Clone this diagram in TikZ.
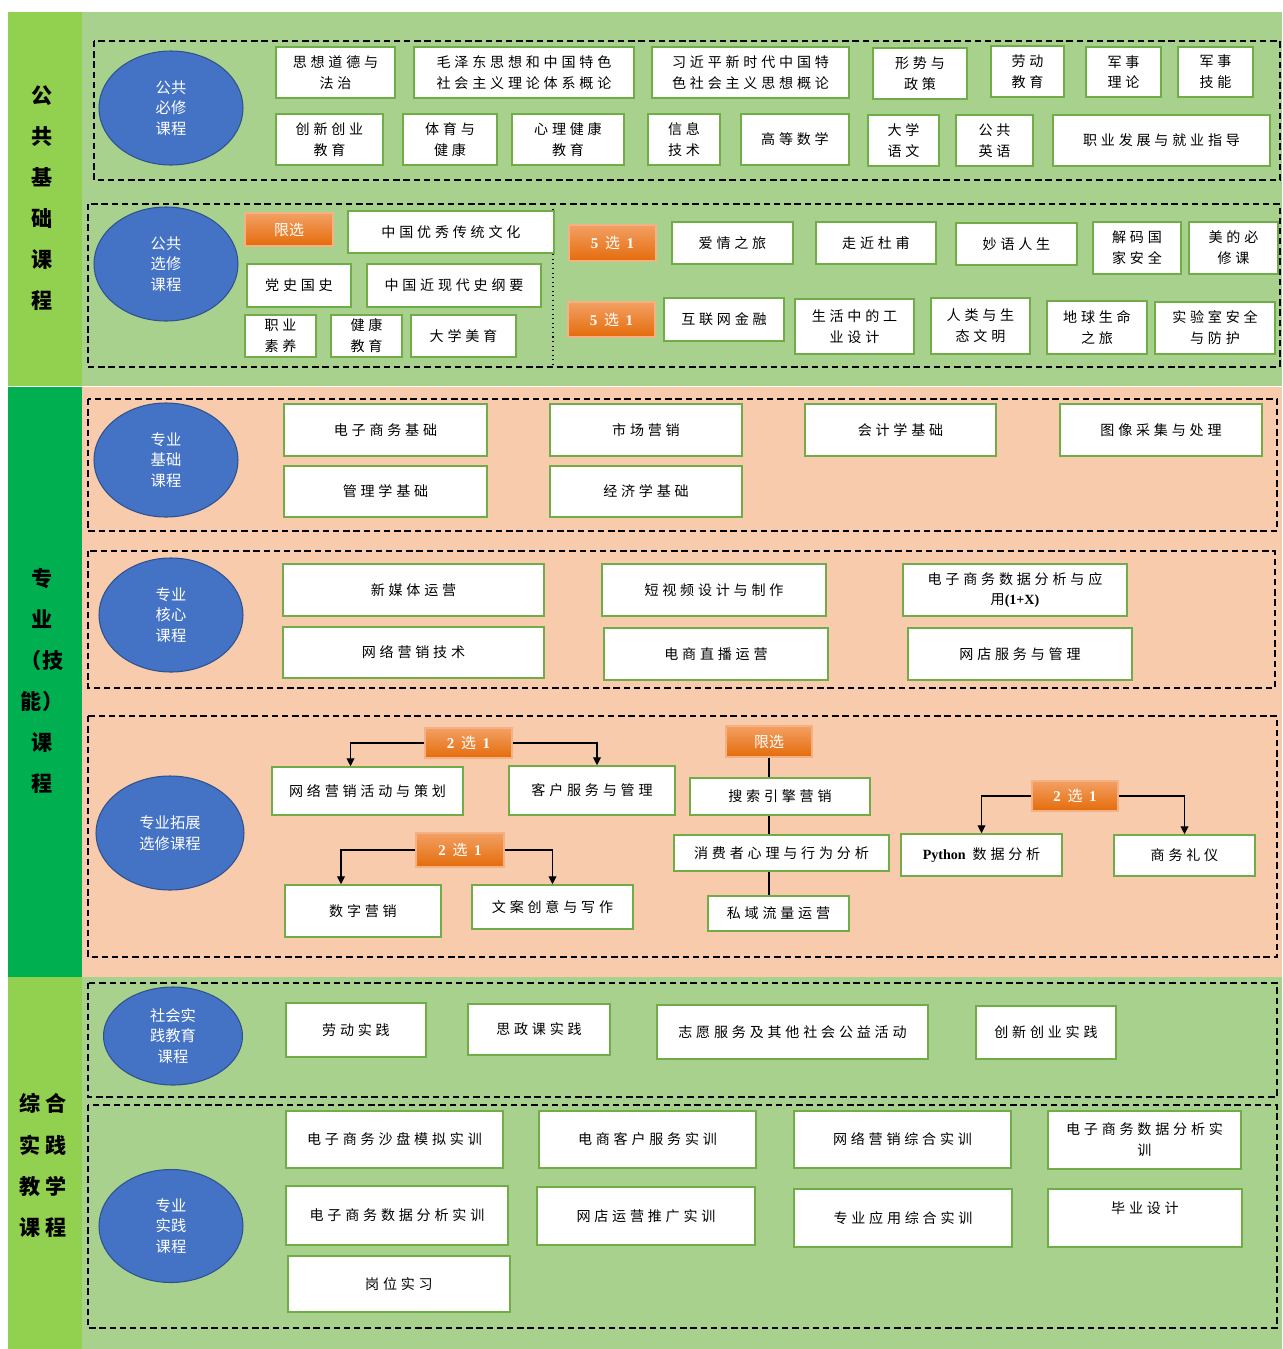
\documentclass[tikz,border=0pt]{standalone}
\usepackage{fontspec}
\setmainfont{Noto Sans CJK SC}
\newfontfamily\boxfont[LetterSpace=27]{Noto Sans CJK SC}
\newfontfamily\latfont{Liberation Serif}
\usetikzlibrary{shapes.geometric,arrows.meta}

\definecolor{stripA}{HTML}{92D050}
\definecolor{stripB}{HTML}{00B050}
\definecolor{greenbg}{HTML}{A9D18E}
\definecolor{peachbg}{HTML}{F8CBAD}
\definecolor{boxline}{HTML}{70AD47}
\definecolor{circfill}{HTML}{4472C4}
\definecolor{circline}{HTML}{2F528F}
\definecolor{pickA}{HTML}{F3A064}
\definecolor{pickB}{HTML}{E46C0A}
\definecolor{pickline}{HTML}{F4B183}

\newcommand\xuan[1]{{\latfont\bfseries #1}\hspace{0.45em}选\hspace{0.45em}{\latfont\bfseries 1}}

\tikzset{
  sz/.style 2 args={minimum width=#1*0.02cm, minimum height=#2*0.02cm},
  course/.style={draw=boxline, line width=0.9pt, fill=white, inner sep=0pt, align=center,
    font=\boxfont\fontsize{8}{11.9}\selectfont},
  pick/.style={draw=pickline, line width=0.6pt, top color=pickA, bottom color=pickB,
    inner sep=0pt, text=white, font=\fontsize{8.5}{10}\selectfont},
  group/.style={ellipse, draw=circline, line width=0.6pt, fill=circfill, text=white,
    inner sep=0pt, align=center, font=\fontsize{8.7}{11.6}\selectfont},
  zone/.style={draw=black, line width=1.3pt, dash pattern=on 3.6pt off 2.2pt},
  link/.style={draw=black, line width=0.6pt},
  arrow/.style={link, -{Triangle[length=4.5pt,width=4.5pt]}},
  side/.style={align=center, font=\bfseries\fontsize{12}{23.4}\selectfont},
}

\begin{document}
\begin{tikzpicture}[x=0.02cm, y=-0.02cm]
    \useasboundingbox (0,0) rectangle (1282,1349);
    % backgrounds
    \fill[stripA] (8,12) rectangle (82,385.5);
    \fill[greenbg] (82,12) rectangle (1282,385.5);
    \fill[stripB] (8,386.5) rectangle (82,977);
    \fill[peachbg] (82,386.5) rectangle (1282,977);
    \fill[stripA] (8,977) rectangle (82,1349);
    \fill[greenbg] (82,977) rectangle (1282,1349);

    \node (side_pub) [side] at (42,198) {公\\共\\基\\础\\课\\程};
    \node (side_pro) [side] at (42,681) {专\\业\\（技\\能）\\课\\程};
    \node (side_prac) [side] at (43,1165.5) {综 合\\实 践\\教 学\\课 程};

    % public compulsory
    \draw[zone] (94,41) rectangle (1280,180);
    \node (pub_req) [group, sz={144}{114}] at (171,108) {公共\\必修\\课程};
    \node (sxdd) [course, sz={119}{51}] at (335.5,72.5) {思想道德与\\法治};
    \node (mzd) [course, sz={220}{51}] at (524,72.5) {毛泽东思想和中国特色\\社会主义理论体系概论};
    \node (xjp) [course, sz={197}{51}] at (750.5,72.5) {习近平新时代中国特\\色社会主义思想概论};
    \node (xszc) [course, sz={94}{51}] at (920,73.5) {形势与\\政策};
    \node (ldjy) [course, sz={73}{51}] at (1027.5,71.5) {劳动\\教育};
    \node (jsll) [course, sz={75}{50}] at (1123.5,72) {军事\\理论};
    \node (jsjn) [course, sz={75}{50}] at (1215.5,72) {军事\\技能};
    \node (cxcy) [course, sz={107}{51}] at (329.5,139.5) {创新创业\\教育};
    \node (tyjk) [course, sz={94}{51}] at (450,139.5) {体育与\\健康};
    \node (xljk) [course, sz={112}{51}] at (568,139.5) {心理健康\\教育};
    \node (xxjs) [course, sz={72}{51}] at (684,139.5) {信息\\技术};
    \node (gdsx) [course, sz={108}{51}] at (795,139.5) {高等数学};
    \node (dxyw) [course, sz={71}{51}] at (903.5,140.5) {大学\\语文};
    \node (ggyy) [course, sz={77}{51}] at (994.5,140.5) {公共\\英语};
    \node (zyfz) [course, sz={217}{51}] at (1161.5,140.5) {职业发展与就业指导};

    % public elective
    \draw[zone] (88,204) rectangle (1280,367);
    \draw[dotted, line width=0.6pt] (553,204) -- (553,367);
    \node (pub_opt) [group, sz={144}{114}] at (166,264) {公共\\选修\\课程};
    \node (pick_lim1) [pick, sz={88}{33}] at (289,229.5) {限选};
    \node (ctwh) [course, sz={206}{42}] at (451,232) {中国优秀传统文化};
    \node (dsgs) [course, sz={104}{43}] at (299,285.5) {党史国史};
    \node (jxds) [course, sz={174}{43}] at (454,285.5) {中国近现代史纲要};
    \node (zysy) [course, sz={71}{42}] at (280.5,336) {职业\\素养};
    \node (jkjy) [course, sz={71}{42}] at (366.5,336) {健康\\教育};
    \node (dxmy) [course, sz={105}{42}] at (463.5,336) {大学美育};
    \node (pick_five1) [pick, sz={87}{36}] at (612.5,243) {\xuan{5}};
    \node (aqzl) [course, sz={121}{42}] at (732.5,243) {爱情之旅};
    \node (zjdf) [course, sz={120}{42}] at (876,243) {走近杜甫};
    \node (myrs) [course, sz={121}{42}] at (1016.5,244) {妙语人生};
    \node (jmgj) [course, sz={88}{52}] at (1137,248) {解码国\\家安全};
    \node (mdbx) [course, sz={89}{52}] at (1233.5,248) {美的必\\修课};
    \node (pick_five2) [pick, sz={87}{35}] at (611.5,319.5) {\xuan{5}};
    \node (hlwjr) [course, sz={120}{43}] at (724,319.5) {互联网金融};
    \node (shgy) [course, sz={119}{55}] at (854.5,326.5) {生活中的工\\业设计};
    \node (rlst) [course, sz={99}{56}] at (980.5,326) {人类与生\\态文明};
    \node (dqsm) [course, sz={100}{53}] at (1097,327.5) {地球生命\\之旅};
    \node (sysaq) [course, sz={120}{52}] at (1215,328) {实验室安全\\与防护};

    % professional basics
    \draw[zone] (88,399) rectangle (1277,531);
    \node (pro_base) [group, sz={144}{114}] at (166,460) {专业\\基础\\课程};
    \node (dzsw) [course, sz={203}{52}] at (385.5,430) {电子商务基础};
    \node (glx) [course, sz={203}{51}] at (385.5,491.5) {管理学基础};
    \node (scyx) [course, sz={192}{52}] at (646,430) {市场营销};
    \node (jjx) [course, sz={192}{51}] at (646,491.5) {经济学基础};
    \node (kjx) [course, sz={191}{52}] at (900.5,430) {会计学基础};
    \node (txcj) [course, sz={202}{52}] at (1161,430) {图像采集与处理};

    % professional core
    \draw[zone] (88,551) rectangle (1275,688);
    \node (pro_core) [group, sz={144}{114}] at (171,615) {专业\\核心\\课程};
    \node (xmt) [course, sz={261}{52}] at (413.5,590) {新媒体运营};
    \node (wlyxjs) [course, sz={261}{51}] at (413.5,652.5) {网络营销技术};
    \node (dsp) [course, sz={224}{52}] at (714,590) {短视频设计与制作};
    \node (dszb) [course, sz={224}{52}] at (716,654) {电商直播运营};
    \node (sjfx) [course, sz={224}{52}] at (1015,590) {电子商务数据分析与应\\用{\latfont\bfseries (1+X)}};
    \node (wdfw) [course, sz={224}{52}] at (1020,654) {网店服务与管理};

    % professional electives
    \draw[zone] (88,716) rectangle (1277,957);
    \node (pro_ext) [group, sz={148}{114}] at (170,833) {专业拓展\\选修课程};
    \node (pick_a) [pick, sz={87}{30}] at (468.5,743) {\xuan{2}};
    \node (wlhd) [course, sz={191}{48}] at (367.5,791) {网络营销活动与策划};
    \node (khfw) [course, sz={166}{49}] at (592,790.5) {客户服务与管理};
    \node (pick_b) [pick, sz={88}{34}] at (460,850) {\xuan{2}};
    \node (szyx) [course, sz={156}{52}] at (363,911) {数字营销};
    \node (wacy) [course, sz={161}{44}] at (552.5,907) {文案创意与写作};
    \node (pick_lim2) [pick, sz={86}{31}] at (769,741.5) {限选};
    \node (ssyq) [course, sz={180}{37}] at (780,796.5) {搜索引擎营销};
    \node (xfz) [course, sz={215}{36}] at (781.5,853) {消费者心理与行为分析};
    \node (syll) [course, sz={141}{35}] at (778.5,913.5) {私域流量运营};
    \node (pick_d) [pick, sz={86}{30}] at (1075,796) {\xuan{2}};
    \node (py) [course, sz={161}{42}] at (981.5,855) {{\latfont\bfseries Python} 数据分析};
    \node (swly) [course, sz={141}{41}] at (1184.5,855.5) {商务礼仪};

    \draw[arrow] (pick_a.west) -| ([xshift=-0.34cm]wlhd.north);
    \draw[arrow] (pick_a.east) -| ([xshift=0.1cm]khfw.north);
    \draw[arrow] (pick_b.west) -| ([xshift=-0.44cm]szyx.north);
    \draw[arrow] (pick_b.east) -| (wacy.north);
    \draw[arrow] (pick_d.west) -| (py.north);
    \draw[arrow] (pick_d.east) -| (swly.north);
    \draw[link] (pick_lim2.south) -- (pick_lim2.south |- ssyq.north);
    \draw[link] (pick_lim2.south |- ssyq.south) -- (pick_lim2.south |- xfz.north);
    \draw[link] (pick_lim2.south |- xfz.south) -- (pick_lim2.south |- syll.north);

    % social practice
    \draw[zone] (88,983) rectangle (1277,1097);
    \node (prac_soc) [group, sz={139}{98}] at (173,1036) {社会实\\践教育\\课程};
    \node (ldsj) [course, sz={140}{54}] at (356,1030) {劳动实践};
    \node (szk) [course, sz={142}{51}] at (539,1029.5) {思政课实践};
    \node (zyfw) [course, sz={271}{54}] at (792.5,1032) {志愿服务及其他社会公益活动};
    \node (cxsj) [course, sz={140}{53}] at (1046,1032.5) {创新创业实践};

    % professional practice
    \draw[zone] (88,1105) rectangle (1277,1328);
    \node (prac_pro) [group, sz={144}{113}] at (171,1226) {专业\\实践\\课程};
    \node (spmn) [course, sz={217}{57}] at (394.5,1139.5) {电子商务沙盘模拟实训};
    \node (dskh) [course, sz={217}{57}] at (647.5,1139.5) {电商客户服务实训};
    \node (wlzh) [course, sz={217}{57}] at (902.5,1139.5) {网络营销综合实训};
    \node (sjsx) [course, sz={193}{58}] at (1144.5,1140) {电子商务数据分析实\\训};
    \node (sjfxsx) [course, sz={222}{59}] at (397,1215.5) {电子商务数据分析实训};
    \node (wdyy) [course, sz={218}{58}] at (646,1216) {网店运营推广实训};
    \node (zyyy) [course, sz={218}{58}] at (903,1218) {专业应用综合实训};
    \node (byss) [course, sz={194}{58}] at (1145,1218) {毕业设计\\~};
    \node (gwsx) [course, sz={222}{56}] at (399,1284) {岗位实习};
\end{tikzpicture}
\end{document}
